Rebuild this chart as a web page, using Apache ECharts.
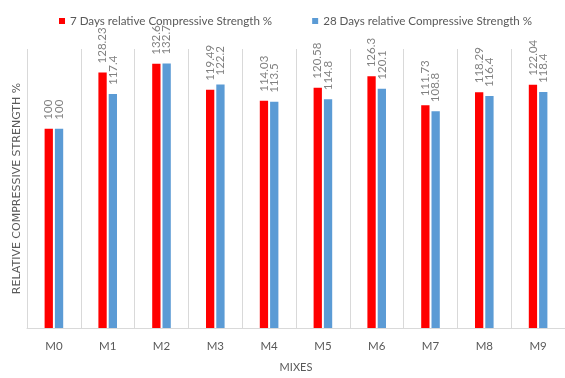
<!DOCTYPE html>
<html>
<head>
<meta charset="utf-8">
<script src="https://cdn.jsdelivr.net/npm/echarts@6/dist/echarts.min.js"></script>
<style>
  html, body { margin: 0; padding: 0; background: #fff; }
  #chart { width: 565px; height: 378px; }
</style>
</head>
<body>
<div id="chart"></div>
<script>
// Mix designations along the x axis
const mixes = ['M0', 'M1', 'M2', 'M3', 'M4', 'M5', 'M6', 'M7', 'M8', 'M9'];
// Relative compressive strength (%) at each curing age
const strength7Days = [100, 128.23, 132.6, 119.49, 114.03, 120.58, 126.3, 111.73, 118.29, 122.04];
const strength28Days = [100, 117.4, 132.7, 122.2, 113.5, 114.8, 120.1, 108.8, 116.4, 118.4];
const seriesNames = ['7 Days relative Compressive Strength %', '28 Days relative Compressive Strength %'];

const FONT = 'Lato, "Open Sans", sans-serif';

const labelStyle = {
  show: true,
  position: 'top',
  rotate: 90,
  align: 'left',
  verticalAlign: 'middle',
  distance: 9,
  color: '#808080',
  fontFamily: FONT,
  fontSize: 11.5
};

const chart = echarts.init(document.getElementById('chart'), null, { renderer: 'canvas' });
chart.setOption({
  animation: false,
  backgroundColor: '#ffffff',
  textStyle: { fontFamily: FONT },
  legend: {
    top: 10,
    left: 54,
    itemGap: 40,
    itemWidth: 6,
    itemHeight: 6,
    icon: 'rect',
    textStyle: { color: '#595959', fontSize: 11.6, fontFamily: FONT },
    data: seriesNames
  },
  grid: { left: 27, top: 49, width: 547, height: 284, containLabel: false },
  xAxis: {
    type: 'category',
    data: mixes,
    name: 'MIXES',
    nameLocation: 'middle',
    nameGap: 34,
    nameTextStyle: { color: '#595959', fontSize: 11, fontFamily: FONT },
    axisLine: { show: true, lineStyle: { color: '#d9d9d9', width: 1 } },
    axisTick: { show: false },
    axisLabel: { color: '#595959', fontSize: 11.5, margin: 12, fontFamily: FONT },
    splitLine: { show: true, lineStyle: { color: '#d9d9d9', width: 1 } }
  },
  yAxis: {
    type: 'value',
    min: 0,
    max: 140,
    name: 'RELATIVE COMPRESSIVE STRENGTH %',
    nameLocation: 'middle',
    nameGap: 4,
    nameRotate: 90,
    nameTextStyle: { color: '#595959', fontSize: 11, fontFamily: '"DejaVu Sans", sans-serif' },
    axisLine: { show: false },
    axisTick: { show: false },
    axisLabel: { show: false },
    splitLine: { show: false }
  },
  series: [
    {
      name: seriesNames[0],
      type: 'bar',
      data: strength7Days,
      barWidth: 8.3,
      barGap: '24%',
      itemStyle: { color: '#ff0000' },
      label: labelStyle
    },
    {
      name: seriesNames[1],
      type: 'bar',
      data: strength28Days,
      barWidth: 8.3,
      itemStyle: { color: '#5b9bd5' },
      label: labelStyle
    }
  ]
});
</script>
</body>
</html>
